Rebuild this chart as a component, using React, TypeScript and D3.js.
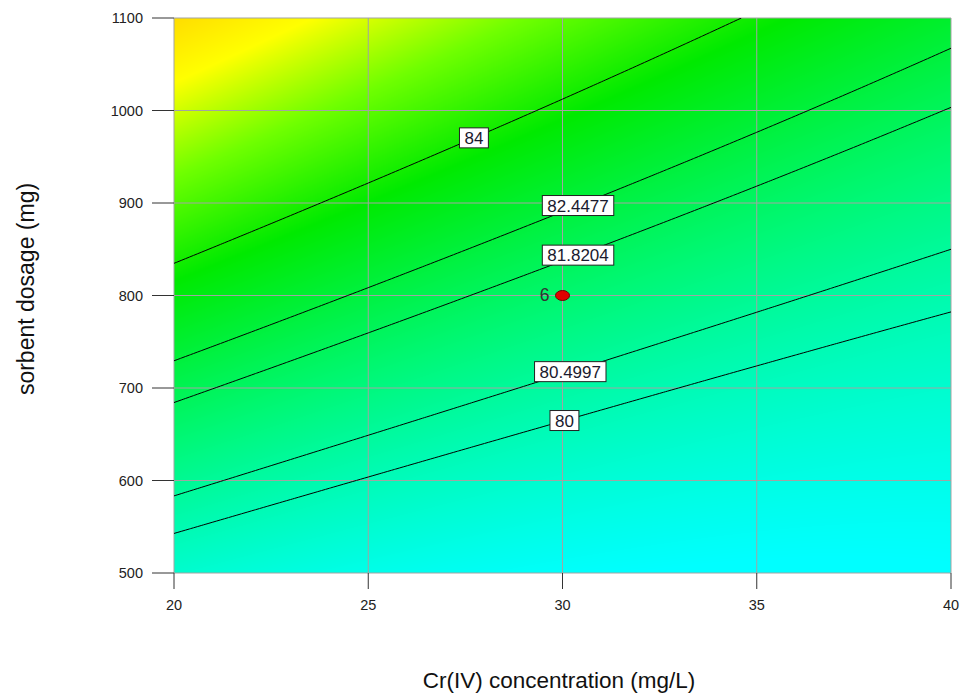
import React, { useMemo } from "react";
import * as d3 from "d3";

// ---- data ----
const concentrationDomain = [20, 40];
const dosageDomain = [500, 1100];
const xTickValues = [20, 25, 30, 35, 40];
const yTickValues = [500, 600, 700, 800, 900, 1000, 1100];
// quadratic response-surface model in coded units: intercept, A, B, AB, A^2, B^2
const modelCoefficients = [81.4, -1.674, 3.32, -1.16, 0.4, 0.5];
const contourLevels = [80, 80.4997, 81.8204, 82.4477, 84];
const contourLabelText = ["80", "80.4997", "81.8204", "82.4477", "84"];
const contourLabelX = [30.05, 30.2, 30.4, 30.4, 27.72];
const colorStopValues = [78.5, 81.2, 83.7, 85.5, 87.2, 89.5];
const colorStopColors = ["#00ffff", "#00f878", "#00ea00", "#70ff00", "#ffff00", "#ffc000"];
const designX = [30];
const designY = [800];
const designCount = [6];
const xTitle = "Cr(IV) concentration (mg/L)";
const yTitle = "sorbent dosage (mg)";

const W = 964;
const H = 698;
const M = { left: 174, right: 951, top: 18, bottom: 573 };
const FONT = "'Liberation Sans', Arial, Helvetica, sans-serif";

function model(x: number, y: number) {
  const [b0, bA, bB, bAB, bAA, bBB] = modelCoefficients;
  const A = (x - 30) / 10;
  const B = (y - 800) / 300;
  return b0 + bA * A + bB * B + bAB * A * B + bAA * A * A + bBB * B * B;
}

export default function App() {
  const xScale = d3.scaleLinear().domain(concentrationDomain).range([M.left, M.right]);
  const yScale = d3.scaleLinear().domain(dosageDomain).range([M.bottom, M.top]);
  const pw = M.right - M.left;
  const ph = M.bottom - M.top;

  const color = d3
    .scaleLinear<string>()
    .domain(colorStopValues)
    .range(colorStopColors)
    .interpolate(d3.interpolateRgb)
    .clamp(true);

  const imageUrl = useMemo(() => {
    const canvas = document.createElement("canvas");
    canvas.width = pw;
    canvas.height = ph;
    const ctx = canvas.getContext("2d");
    if (!ctx) return "";
    const img = ctx.createImageData(pw, ph);
    const lo = 76, hi = 92, n = 2048;
    const lut: number[][] = [];
    for (let k = 0; k < n; k++) {
      const c = d3.rgb(color(lo + ((hi - lo) * k) / (n - 1)));
      lut.push([c.r, c.g, c.b]);
    }
    for (let j = 0; j < ph; j++) {
      const y = yScale.invert(M.top + j + 0.5);
      for (let i = 0; i < pw; i++) {
        const x = xScale.invert(M.left + i + 0.5);
        const v = model(x, y);
        let k = Math.round(((v - lo) / (hi - lo)) * (n - 1));
        k = Math.max(0, Math.min(n - 1, k));
        const c = lut[k];
        const o = (j * pw + i) * 4;
        img.data[o] = c[0];
        img.data[o + 1] = c[1];
        img.data[o + 2] = c[2];
        img.data[o + 3] = 255;
      }
    }
    ctx.putImageData(img, 0, 0);
    return canvas.toDataURL();
  }, []);

  const contourPaths = useMemo(() => {
    const nx = 201, ny = 151;
    const dx = (concentrationDomain[1] - concentrationDomain[0]) / (nx - 1);
    const dy = (dosageDomain[1] - dosageDomain[0]) / (ny - 1);
    const values = new Array(nx * ny);
    for (let j = 0; j < ny; j++) {
      for (let i = 0; i < nx; i++) {
        values[j * nx + i] = model(concentrationDomain[0] + i * dx, dosageDomain[1] - j * dy);
      }
    }
    const cs = d3.contours().size([nx, ny]).thresholds(contourLevels)(values);
    const proj = d3.geoTransform({
      point(this: any, gx: number, gy: number) {
        this.stream.point(
          xScale(concentrationDomain[0] + (gx - 0.5) * dx),
          yScale(dosageDomain[1] - (gy - 0.5) * dy)
        );
      },
    });
    const path = d3.geoPath(proj);
    return cs.map((c) => path(c) || "");
  }, []);

  const measure = (text: string, size: number) => {
    const cv = document.createElement("canvas");
    const ctx = cv.getContext("2d");
    if (!ctx) return text.length * size * 0.55;
    ctx.font = `${size}px 'Liberation Sans'`;
    return ctx.measureText(text).width;
  };

  const labels = contourLevels.map((lev, idx) => {
    const x = contourLabelX[idx];
    let a = dosageDomain[0], b = dosageDomain[1];
    for (let it = 0; it < 60; it++) {
      const m = (a + b) / 2;
      if (model(x, m) < lev) a = m;
      else b = m;
    }
    const y = (a + b) / 2;
    const tw = measure(contourLabelText[idx], 17);
    return { px: xScale(x), py: yScale(y), tw, text: contourLabelText[idx] };
  });

  return (
    <svg
      width={W}
      height={H}
      style={{ position: "absolute", left: 0, top: 0, display: "block", background: "#fff" }}
      fontFamily={FONT}
    >
      <defs>
        <clipPath id="plotClip">
          <rect x={M.left} y={M.top} width={pw} height={ph} />
        </clipPath>
      </defs>
      <image href={imageUrl} x={M.left} y={M.top} width={pw} height={ph} preserveAspectRatio="none" />
      {/* grid */}
      <g stroke="#a3a3a3" strokeWidth={1}>
        {xTickValues.map((t) => (
          <line key={"gx" + t} x1={xScale(t)} x2={xScale(t)} y1={M.top} y2={M.bottom} />
        ))}
        {yTickValues.map((t) => (
          <line key={"gy" + t} x1={M.left} x2={M.right} y1={yScale(t)} y2={yScale(t)} />
        ))}
      </g>
      {/* contours */}
      <g clipPath="url(#plotClip)" fill="none" stroke="#000" strokeWidth={1}>
        {contourPaths.map((d, i) => (
          <path key={i} d={d} />
        ))}
      </g>
      {/* ticks */}
      <g stroke="#333" strokeWidth={1}>
        {yTickValues.map((t) => (
          <line key={"ty" + t} x1={152} x2={M.left} y1={yScale(t)} y2={yScale(t)} />
        ))}
        {xTickValues.map((t) => (
          <line key={"tx" + t} x1={xScale(t)} x2={xScale(t)} y1={M.bottom} y2={589} />
        ))}
      </g>
      <g fontSize={14.5} fill="#222">
        {yTickValues.map((t) => (
          <text key={"ly" + t} x={143} y={yScale(t) + 5} textAnchor="end">
            {t}
          </text>
        ))}
        {xTickValues.map((t) => (
          <text key={"lx" + t} x={xScale(t)} y={610} textAnchor="middle">
            {t}
          </text>
        ))}
      </g>
      {/* contour labels */}
      {labels.map((l, i) => (
        <g key={"cl" + i}>
          <rect
            x={l.px - l.tw / 2 - 5}
            y={l.py - 10}
            width={l.tw + 10}
            height={20}
            fill="#fff"
            stroke="#222"
            strokeWidth={1}
          />
          <text x={l.px} y={l.py + 6} textAnchor="middle" fontSize={17} fill="#1a1a2e">
            {l.text}
          </text>
        </g>
      ))}
      {/* design points */}
      {designX.map((dx, i) => (
        <g key={"dp" + i}>
          <ellipse cx={xScale(dx)} cy={yScale(designY[i])} rx={7} ry={5} fill="#e00000" stroke="#700000" strokeWidth={1} />
          <text x={xScale(dx) - 13} y={yScale(designY[i]) + 5} textAnchor="end" fontSize={17.5} fill="#333">
            {designCount[i]}
          </text>
        </g>
      ))}
      {/* axis titles */}
      <text x={559} y={688} textAnchor="middle" fontSize={22.5} fill="#111">
        {xTitle}
      </text>
      <text
        transform={`translate(34, ${289}) rotate(-90)`}
        textAnchor="middle"
        fontSize={23}
        fill="#111"
      >
        {yTitle}
      </text>
    </svg>
  );
}
